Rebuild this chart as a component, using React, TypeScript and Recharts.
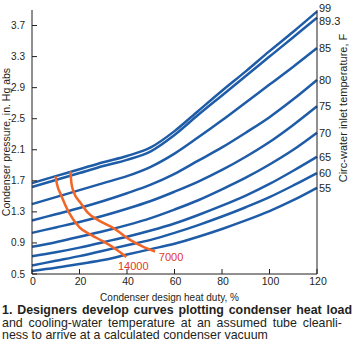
import React from 'react'
import { LineChart, Line, XAxis, YAxis } from 'recharts'

// condenser design heat duty, %
const heatDuty = [0, 10, 20, 30, 40, 50, 60, 70, 80, 90, 100, 110, 120]

// condenser pressure (in. Hg abs) for each circ-water inlet temperature
const p99 = [1.67, 1.76, 1.85, 1.94, 2.02, 2.13, 2.34, 2.6, 2.86, 3.11, 3.37, 3.62, 3.88]
const p893 = [1.62, 1.71, 1.8, 1.89, 1.97, 2.08, 2.29, 2.55, 2.8, 3.05, 3.3, 3.55, 3.8]
const p85 = [1.4, 1.49, 1.58, 1.67, 1.76, 1.88, 2.05, 2.26, 2.48, 2.71, 2.94, 3.17, 3.41]
const p80 = [1.19, 1.27, 1.35, 1.44, 1.54, 1.65, 1.79, 1.96, 2.13, 2.32, 2.52, 2.75, 3.0]
const p75 = [1.03, 1.1, 1.17, 1.25, 1.34, 1.44, 1.56, 1.69, 1.84, 2.01, 2.2, 2.42, 2.66]
const p70 = [0.85, 0.91, 0.98, 1.05, 1.13, 1.22, 1.33, 1.45, 1.59, 1.74, 1.91, 2.1, 2.32]
const p65 = [0.73, 0.78, 0.84, 0.91, 0.98, 1.06, 1.15, 1.26, 1.38, 1.51, 1.66, 1.83, 2.01]
const p60 = [0.61, 0.67, 0.73, 0.8, 0.87, 0.94, 1.03, 1.13, 1.24, 1.36, 1.49, 1.64, 1.8]
const p55 = [0.54, 0.58, 0.63, 0.68, 0.75, 0.82, 0.89, 0.98, 1.08, 1.19, 1.31, 1.45, 1.61]

const tempLabels = ['99', '89.3', '85', '80', '75', '70', '65', '60', '55']
const pressures = [p99, p893, p85, p80, p75, p70, p65, p60, p55]

// tube cleanliness curves
const c14000x = [9.9, 10.5, 12.2, 15.4, 20, 25, 30, 35.8, 39.7]
const c14000y = [1.76, 1.66, 1.52, 1.3, 1.1, 1.0, 0.92, 0.81, 0.72]
const c7000x = [16.2, 16.6, 17.5, 20.6, 23.8, 28, 34.3, 41.3, 46.9, 51.8]
const c7000y = [1.82, 1.67, 1.56, 1.41, 1.28, 1.19, 1.09, 0.94, 0.85, 0.79]

const xTicks = [0, 20, 40, 60, 80, 100, 120]
const yTicks = [0.5, 0.9, 1.3, 1.7, 2.1, 2.5, 2.9, 3.3, 3.7]

const rows = heatDuty.map((x, i) => {
  const r: Record<string, number> = { x }
  tempLabels.forEach((t, j) => { r['t' + t] = pressures[j][i] })
  return r
})
const c14000 = c14000x.map((x, i) => ({ x, y: c14000y[i] }))
const c7000 = c7000x.map((x, i) => ({ x, y: c7000y[i] }))

const BLUE = '#1f5ca8'
const ORANGE = '#f26527'
const RED = '#e2372a'
const INK = '#231f20'
const FONT = '"Liberation Sans", Arial, Helvetica, sans-serif'

const PLOT_LEFT = 32
const PLOT_BOTTOM = 274

const labelNudge: Record<string, number> = { '99': -3, '89.3': 3 }

const XTick = (props: any) => {
  const { x, payload } = props
  return (
    <g>
      <line x1={x} x2={x} y1={PLOT_BOTTOM} y2={PLOT_BOTTOM - 5} stroke={INK} />
      <text x={x + 1} y={PLOT_BOTTOM + 4} dy="0.71em" textAnchor="middle" fontSize={10.5} fill={INK}>
        {payload.value}
      </text>
    </g>
  )
}

const YTick = (props: any) => {
  const { y, payload } = props
  return (
    <g>
      <line x1={PLOT_LEFT} x2={PLOT_LEFT + 5} y1={y} y2={y} stroke={INK} />
      <text x={PLOT_LEFT - 7} y={y} dy="0.355em" textAnchor="end" fontSize={10} fill={INK}>
        {payload.value.toFixed(1)}
      </text>
    </g>
  )
}

const endLabel = (name: string) => (props: any) => {
  if (props.index !== heatDuty.length - 1) return null
  return (
    <text x={props.x + 2} y={props.y + (labelNudge[name] || 0)} dy="0.355em" fontSize={11} fill={INK}>
      {name}
    </text>
  )
}

const curveLabel = (name: string, last: number, dx: number, dy: number) => (props: any) => {
  if (props.index !== last) return null
  return (
    <text x={props.x + dx} y={props.y + dy} dy="0.355em" textAnchor="middle" fontSize={11} fill={RED}>
      {name}
    </text>
  )
}

const captionLine = { width: 350, textAlign: 'justify' as const, textAlignLast: 'justify' as const }

export default function App() {
  return (
    <div style={{ position: 'absolute', left: 0, top: 0, width: 358, height: 352, background: '#fff', fontFamily: FONT }}>
      <LineChart
        width={358}
        height={312}
        data={rows}
        margin={{ top: 10, right: 0, bottom: 0, left: 8 }}
        style={{ fontFamily: FONT }}
      >
        <XAxis
          dataKey="x"
          type="number"
          domain={[0, 120]}
          ticks={xTicks}
          height={38}
          tickSize={0}
          tickLine={false}
          tick={<XTick />}
          axisLine={{ stroke: INK }}
          label={{
            content: (p: any) => (
              <text x={p.viewBox.x + p.viewBox.width / 2 - 5} y={297} dy="0.355em" textAnchor="middle" fontSize={10} fill={INK}>
                Condenser design heat duty, %
              </text>
            ),
          }}
        />
        <XAxis xAxisId="top" orientation="top" dataKey="x" type="number" domain={[0, 120]} height={0} tick={false} tickLine={false} axisLine={{ stroke: INK }} />
        <YAxis
          type="number"
          domain={[0.5, 3.9]}
          ticks={yTicks}
          width={24}
          tickSize={0}
          tickLine={false}
          tick={<YTick />}
          axisLine={{ stroke: INK }}
          allowDataOverflow
          label={{
            content: (p: any) => (
              <text
                x={6}
                y={p.viewBox.y + p.viewBox.height / 2}
                dy="0.355em"
                textAnchor="middle"
                fontSize={10.5}
                fill={INK}
                transform={`rotate(-90 6 ${p.viewBox.y + p.viewBox.height / 2})`}
              >
                Condenser pressure, in. Hg abs
              </text>
            ),
          }}
        />
        <YAxis
          yAxisId="right"
          orientation="right"
          domain={[0.5, 3.9]}
          width={41}
          tick={false}
          tickLine={false}
          axisLine={{ stroke: INK }}
          label={{
            content: () => (
              <text x={343} y={108} dy="0.355em" textAnchor="middle" fontSize={11} fill={INK} transform="rotate(-90 343 108)">
                Circ-water inlet temperature, F
              </text>
            ),
          }}
        />
        {tempLabels.map((t) => (
          <Line
            key={t}
            dataKey={'t' + t}
            type="monotone"
            stroke={BLUE}
            strokeWidth={2.5}
            dot={false}
            isAnimationActive={false}
            label={endLabel(t)}
          />
        ))}
        <Line
          data={c14000}
          dataKey="y"
          type="monotone"
          stroke={ORANGE}
          strokeWidth={2.5}
          dot={false}
          isAnimationActive={false}
          label={curveLabel('14000', c14000.length - 1, 7, 9)}
        />
        <Line
          data={c7000}
          dataKey="y"
          type="monotone"
          stroke={ORANGE}
          strokeWidth={2.5}
          dot={false}
          isAnimationActive={false}
          label={curveLabel('7000', c7000.length - 1, 16, 6)}
        />
      </LineChart>
      <div style={{ position: 'absolute', left: 2, top: 304, fontSize: 12.4, lineHeight: '12.7px', color: INK, whiteSpace: 'nowrap' }}>
        <div style={{ ...captionLine, fontWeight: 'bold' }}>1. Designers develop curves plotting condenser heat load</div>
        <div style={{ ...captionLine, width: 340 }}>and cooling-water temperature at an assumed tube cleanli-</div>
        <div>ness to arrive at a calculated condenser vacuum</div>
      </div>
    </div>
  )
}
